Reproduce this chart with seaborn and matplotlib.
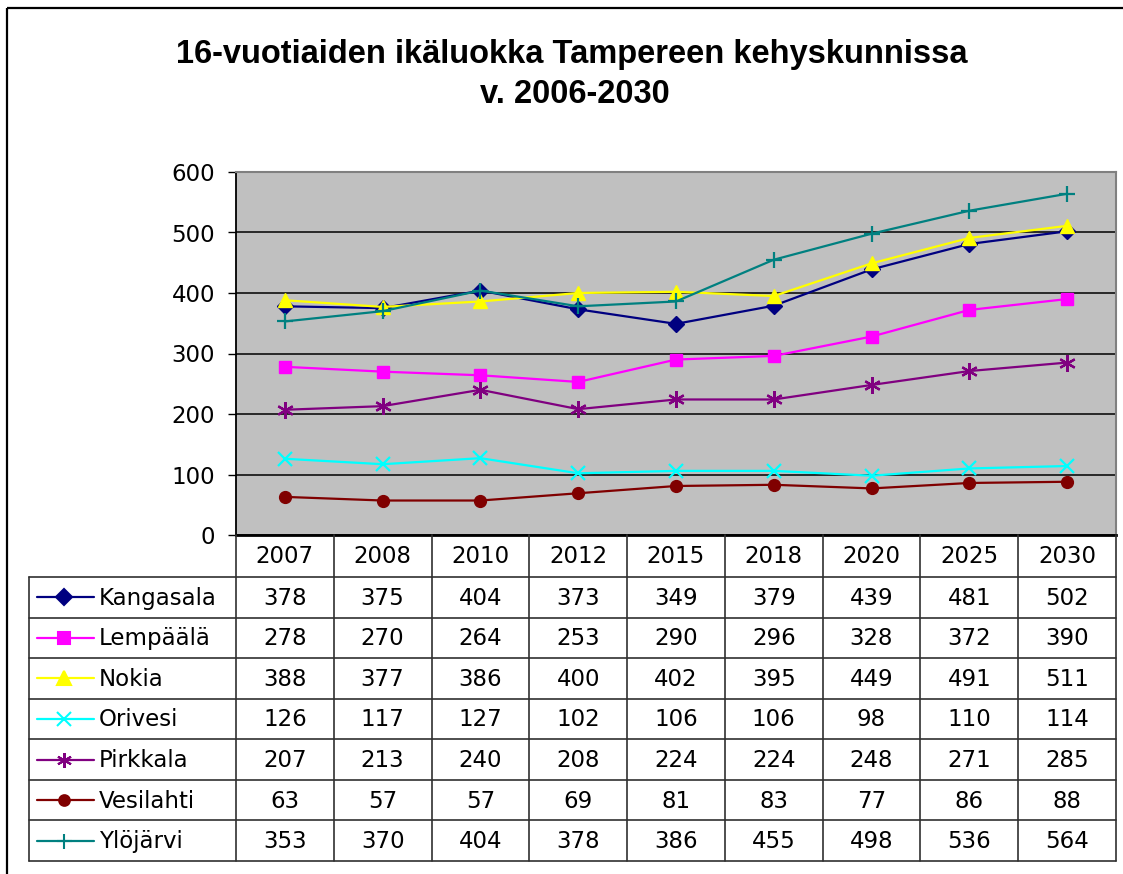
import pandas as pd
import seaborn as sns
import matplotlib.pyplot as plt
from matplotlib.lines import Line2D
from matplotlib.patches import Rectangle

years = ['2007', '2008', '2010', '2012', '2015', '2018', '2020', '2025', '2030']
kangasala = [378, 375, 404, 373, 349, 379, 439, 481, 502]
lempaala = [278, 270, 264, 253, 290, 296, 328, 372, 390]
nokia = [388, 377, 386, 400, 402, 395, 449, 491, 511]
orivesi = [126, 117, 127, 102, 106, 106, 98, 110, 114]
pirkkala = [207, 213, 240, 208, 224, 224, 248, 271, 285]
vesilahti = [63, 57, 57, 69, 81, 83, 77, 86, 88]
ylojarvi = [353, 370, 404, 378, 386, 455, 498, 536, 564]

names = ['Kangasala', 'Lempäälä', 'Nokia', 'Orivesi', 'Pirkkala', 'Vesilahti', 'Ylöjärvi']
series = [kangasala, lempaala, nokia, orivesi, pirkkala, vesilahti, ylojarvi]
colors = ['#000080', '#FF00FF', '#FFFF00', '#00FFFF', '#800080', '#800000', '#008080']
markers = ['D', 's', '^', 'x', (6, 2, 0), 'o', '+']
msizes = [8.5, 9, 10.5, 10.5, 12, 8.5, 12]

rows = []
for name, vals in zip(names, series):
    for y, v in zip(years, vals):
        rows.append({'Vuosi': y, 'Kunta': name, 'Määrä': v})
df = pd.DataFrame(rows)

sns.set_style('white')
plt.rcParams['font.family'] = ['DejaVu Sans']
plt.rcParams['text.color'] = 'black'
plt.rcParams['xtick.color'] = 'black'
plt.rcParams['ytick.color'] = 'black'

W, H = 1123, 874
TXT = 16.5
fig = plt.figure(figsize=(W / 100, H / 100), dpi=100)


def fx(px):
    return px / W


def fy(py):
    return 1 - py / H


left, right, top, bottom = 236, 1116, 172, 535
ax = fig.add_axes([fx(left), fy(bottom), fx(right - left), (bottom - top) / H])
ax.set_facecolor('#C0C0C0')

for name, col, mk, ms in zip(names, colors, markers, msizes):
    sub = df[df['Kunta'] == name]
    filled = mk not in ('x', '+', (6, 2, 0))
    sns.lineplot(data=sub, x='Vuosi', y='Määrä', ax=ax, color=col, lw=1.6,
                 marker=mk, markersize=ms, markeredgewidth=1 if filled else 1.6,
                 markerfacecolor=col, markeredgecolor=col, legend=False)

ax.set_xlim(-0.5, len(years) - 0.5)
ax.set_ylim(0, 600)
ax.set_yticks(range(0, 601, 100))
ax.yaxis.grid(True, color='black', lw=1.1)
ax.set_axisbelow(True)
ax.set_xlabel('')
ax.set_ylabel('')
ax.set_xticks(range(len(years)))
ax.set_xticklabels(years)
ax.tick_params(axis='x', length=0, pad=7, labelsize=TXT, labelcolor='black')
ax.tick_params(axis='y', length=6, width=1, color='black', direction='out',
               pad=9, labelsize=TXT, left=True, labelcolor='black')
for s in ['top', 'right']:
    ax.spines[s].set_color('#808080')
    ax.spines[s].set_linewidth(1.5)
ax.spines['left'].set_color('black')
ax.spines['left'].set_linewidth(1.3)
ax.spines['bottom'].set_color('black')
ax.spines['bottom'].set_linewidth(2)

# Data table drawn in a pixel-coordinate overlay
ov = fig.add_axes([0, 0, 1, 1], facecolor='none')
ov.set_xlim(0, W)
ov.set_ylim(H, 0)
ov.axis('off')

ov.add_patch(Rectangle((7, 8), W + 20, H + 20, fill=False, ec='black', lw=1.6))

title_kw = dict(fontsize=23.5, fontweight='bold', ha='center', va='baseline',
                color='black', family=['Liberation Sans', 'DejaVu Sans'])
ov.text(572, 63, '16-vuotiaiden ikäluokka Tampereen kehyskunnissa', **title_kw)
ov.text(575, 103, 'v. 2006-2030', **title_kw)

cell_w = (right - left) / len(years)
row_top = 577
row_h = (861 - row_top) / len(names)
tab_left = 29

for i in range(len(years) + 1):
    xx = left + i * cell_w
    ov.add_line(Line2D([xx, xx], [bottom, 861], color='#303030', lw=1.2))
ov.add_line(Line2D([tab_left, tab_left], [row_top, 861], color='#303030', lw=1.2))
for j in range(len(names) + 1):
    yy = row_top + j * row_h
    ov.add_line(Line2D([tab_left, right], [yy, yy], color='#303030', lw=1.2))

for j, (name, vals, col, mk, ms) in enumerate(zip(names, series, colors, markers, msizes)):
    yc = row_top + (j + 0.5) * row_h
    ov.add_line(Line2D([37, 94], [yc, yc], color=col, lw=1.6))
    ov.plot([64], [yc], marker=mk, color=col, markersize=ms * 0.9,
            markeredgewidth=1.5, markerfacecolor=col, markeredgecolor=col)
    ov.text(99, yc + 1, name, fontsize=TXT, va='center', ha='left', color='black')
    for i, v in enumerate(vals):
        ov.text(left + (i + 0.5) * cell_w, yc + 1, str(v), fontsize=TXT,
                va='center', ha='center', color='black')

fig.savefig('out.png', dpi=100)
